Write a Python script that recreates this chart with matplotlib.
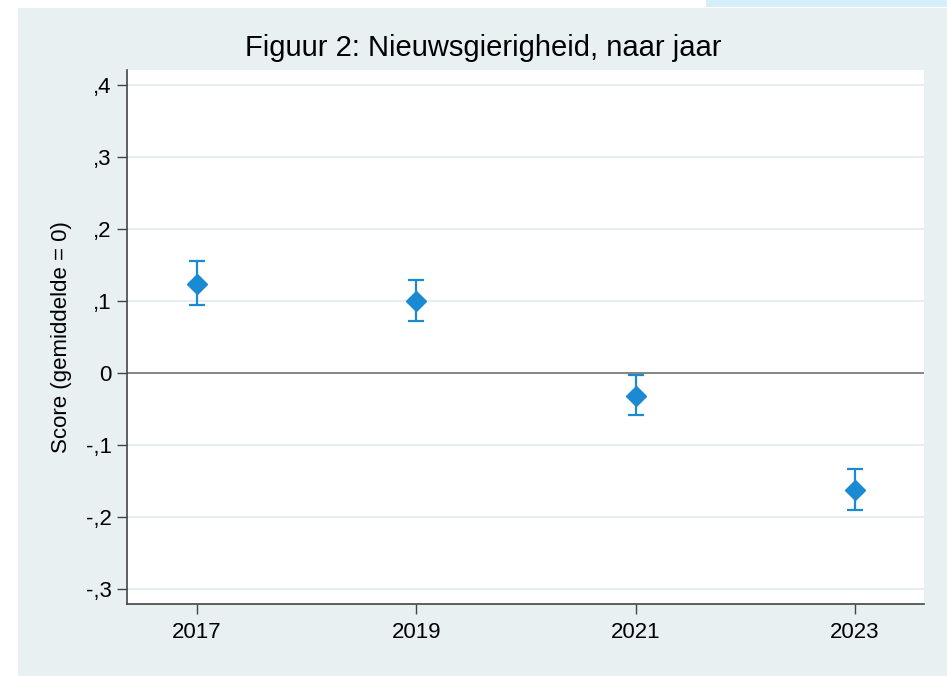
import matplotlib
matplotlib.use("Agg")
import matplotlib.pyplot as plt
from matplotlib.patches import Rectangle

years = [2017, 2019, 2021, 2023]
scores = [0.124, 0.100, -0.032, -0.163]
ci_low = [0.095, 0.072, -0.058, -0.191]
ci_high = [0.156, 0.129, -0.003, -0.134]
yticks = [-0.3, -0.2, -0.1, 0.0, 0.1, 0.2, 0.3, 0.4]
ytick_labels = ["-,3", "-,2", "-,1", "0", ",1", ",2", ",3", ",4"]

plt.rcParams['font.family'] = ['Liberation Sans', 'DejaVu Sans']

W, H = 947, 676
fig = plt.figure(figsize=(W / 100, H / 100), dpi=100)
fig.patch.set_facecolor('white')
bg = '#E8F0F2'
fig.patches.append(Rectangle((18 / W, 0), 1 - 18 / W, (H - 8) / H, transform=fig.transFigure,
                             facecolor=bg, edgecolor='none', zorder=-10))
fig.patches.append(Rectangle((706 / W, (H - 7) / H), 1 - 706 / W, 7 / H, transform=fig.transFigure,
                             facecolor='#D4EEFA', edgecolor='none', zorder=-10))

left, right, top, bottom = 127, 924, 70, 604
ax = fig.add_axes([left / W, 1 - bottom / H, (right - left) / W, (bottom - top) / H])
ax.set_facecolor('white')

color = '#1A8AD2'
yerr = [[s - l for s, l in zip(scores, ci_low)], [h - s for s, h in zip(scores, ci_high)]]
ax.errorbar(years, scores, yerr=yerr, fmt='D', color=color, ecolor=color, markersize=10,
            elinewidth=1.6, capsize=6, capthick=1.6, zorder=5)

ax.set_xlim(2016.36, 2023.63)
ax.set_ylim(-0.321, 0.421)
ax.set_yticks(yticks)
ax.set_yticklabels(ytick_labels)
ax.set_xticks(years)
ax.set_xticklabels([str(y) for y in years])

for y in yticks:
    if y != 0:
        ax.axhline(y, color='#E3EBEE', lw=1.2, zorder=1)
ax.axhline(0, color='#707070', lw=1.2, zorder=2)

for s in ['top', 'right']:
    ax.spines[s].set_visible(False)
for s in ['left', 'bottom']:
    ax.spines[s].set_color('#444444')
    ax.spines[s].set_linewidth(1.2)

ax.tick_params(axis='both', colors='#444444', labelcolor='black', labelsize=16, length=7, width=1)
ax.tick_params(axis='y', pad=4)
ax.tick_params(axis='x', pad=6)

ax.set_ylabel('Score (gemiddelde = 0)', fontsize=16, labelpad=10)
fig.text((left + right) / 2 / W - 0.045, 1 - 48 / H, 'Figuur 2: Nieuwsgierigheid, naar jaar',
         fontsize=21, ha='center', va='center')

fig.savefig('out.png', dpi=100, facecolor=fig.get_facecolor())
